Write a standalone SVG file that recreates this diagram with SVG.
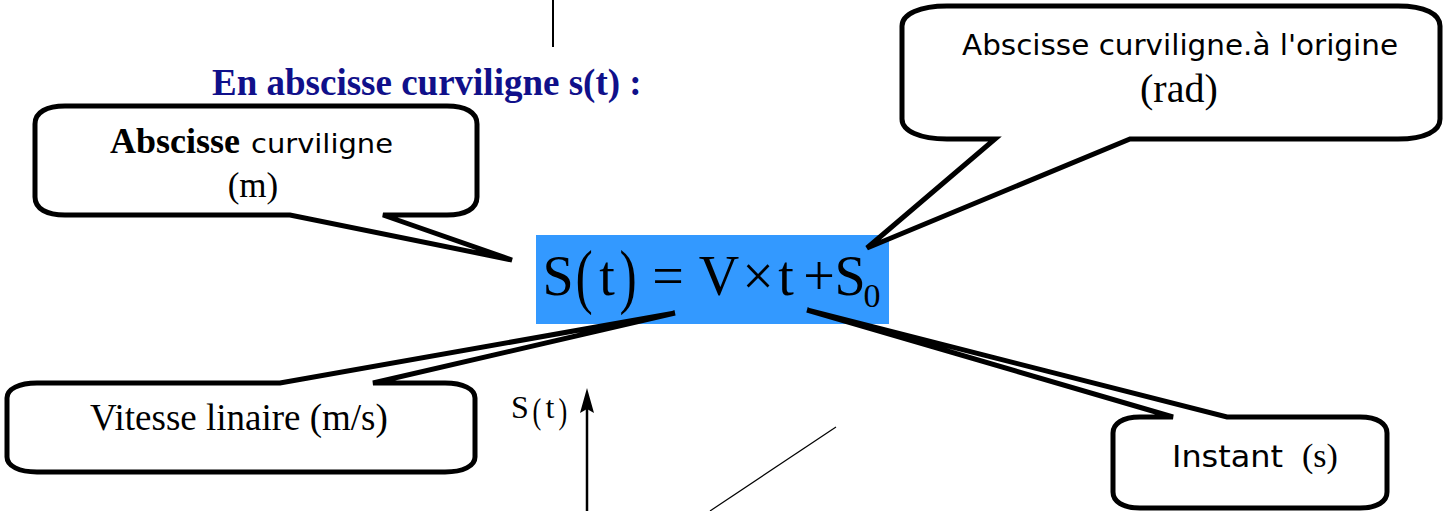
<svg xmlns="http://www.w3.org/2000/svg" width="1443" height="511" viewBox="0 0 1443 511">
<style>
.box{fill:#fff;stroke:#000;stroke-width:5;stroke-linejoin:miter}
.tr{font-family:"Liberation Serif","Times New Roman",serif;fill:#000}
.trb{font-family:"Liberation Serif","Times New Roman",serif;font-weight:bold;fill:#000}
.cm{font-family:"Comic Sans MS","DejaVu Sans",sans-serif;fill:#000}
.eq{font-family:"Liberation Serif","Times New Roman",serif;font-size:56px;fill:#000;text-anchor:middle}
.par{font-size:72px}
</style>
<rect width="1443" height="511" fill="#fff"/>
<g id="connectors">
<line x1="553" y1="0" x2="553" y2="47" stroke="#000" stroke-width="2"/>
<line x1="587" y1="511" x2="587" y2="400" stroke="#000" stroke-width="2.5"/>
<polygon points="587,388 580,413 587,409 594,413" fill="#000"/>
<line x1="710" y1="511" x2="836" y2="427" stroke="#000" stroke-width="1.2"/>
</g>
<g id="title">
<text x="212" y="95" font-family="Liberation Serif, Times New Roman, serif" font-weight="bold" font-size="37" fill="#10108a">En abscisse curviligne s(t) :</text>
</g>
<g id="equation">
<rect x="536" y="235" width="353" height="89" fill="#3399ff"/>
<text class="eq" x="558" y="295">S</text>
<text class="eq par" transform="translate(584,300) scale(0.72,1)">(</text>
<text class="eq" x="607" y="295">t</text>
<text class="eq par" transform="translate(628,300) scale(0.72,1)">)</text>
<text class="eq" x="668" y="295">=</text>
<text class="eq" x="719" y="295">V</text>
<text class="eq" x="758" y="295">×</text>
<text class="eq" x="786" y="295">t</text>
<text class="eq" x="819" y="295">+</text>
<text class="eq" x="850" y="295">S</text>
<text class="eq" x="872" y="307" style="font-size:34px">0</text>
</g>
<g id="callout-abscisse">
<path class="box" d="M65,106 L447,106 C465,106 477,112 477,124 L477,197 C477,209 465,215 447,215 L383,215 L512,260 L290,215 L65,215 C47,215 35,209 35,197 L35,124 C35,112 47,106 65,106 Z"/>
<text class="trb" x="110" y="153" font-size="36">Abscisse</text>
<text class="cm" x="251" y="153" font-size="27" textLength="142" lengthAdjust="spacingAndGlyphs">curviligne</text>
<text class="tr" x="253" y="197" font-size="35" text-anchor="middle">(m)</text>
</g>
<g id="callout-origine">
<path class="box" d="M947,6 L1398,6 C1425,6 1440,14 1440,26 L1440,119 C1440,131 1425,139 1398,139 L1130,139 L867,248 L995,139 L947,139 C920,139 902,131 902,119 L902,26 C902,14 920,6 947,6 Z"/>
<text class="cm" x="962" y="55" font-size="28" textLength="436" lengthAdjust="spacingAndGlyphs">Abscisse curviligne.à l'origine</text>
<text class="tr" x="1140" y="102" font-size="40">(rad)</text>
</g>
<g id="callout-vitesse">
<path class="box" d="M37,383 L280,383 L675,313 L373,383 L445,383 C463,383 475,389 475,398 L475,457 C475,466 463,472 445,472 L37,472 C19,472 7,466 7,457 L7,398 C7,389 19,383 37,383 Z"/>
<text class="tr" x="90" y="430" font-size="37">Vitesse linaire (m/s)</text>
</g>
<g id="callout-instant">
<path class="box" d="M1140,417 L1173,417 L807,310 L1227,417 L1360,417 C1378,417 1387,424 1387,433 L1387,492 C1387,501 1378,508 1360,508 L1140,508 C1122,508 1113,501 1113,492 L1113,433 C1113,424 1122,417 1140,417 Z"/>
<text class="cm" x="1172" y="467" font-size="30" textLength="111" lengthAdjust="spacingAndGlyphs">Instant</text>
<text class="tr" x="1302" y="467" font-size="34">(s)</text>
</g>
<g id="axis-label">
<text class="tr" x="520" y="418" font-size="32" text-anchor="middle">S</text>
<text class="tr" font-size="35" text-anchor="middle" transform="translate(537,423) scale(0.75,1)">(</text>
<text class="tr" x="550" y="418" font-size="32" text-anchor="middle">t</text>
<text class="tr" font-size="35" text-anchor="middle" transform="translate(563,423) scale(0.75,1)">)</text>
</g>
</svg>
